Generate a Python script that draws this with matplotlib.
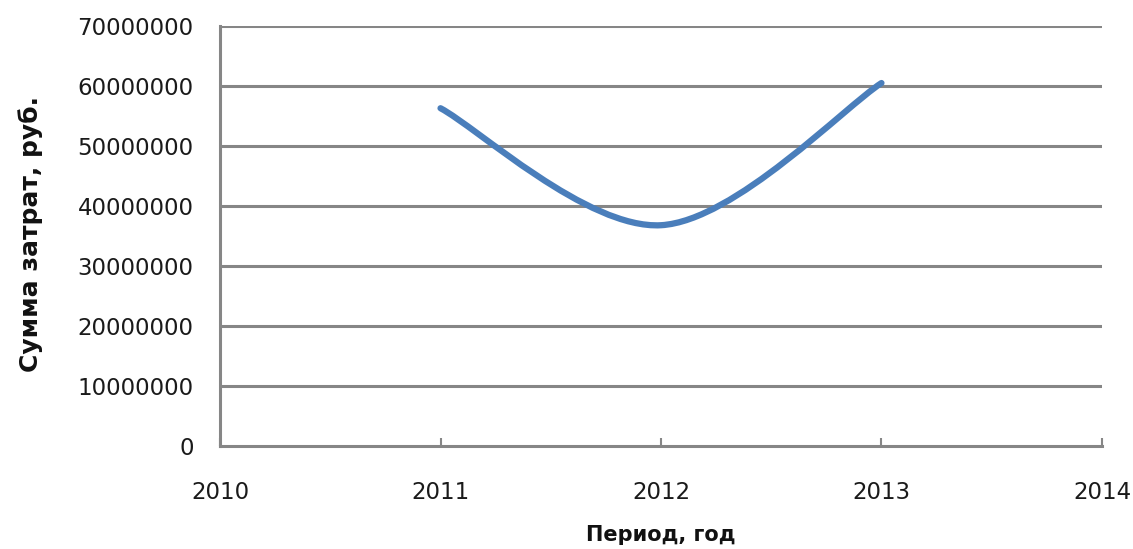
import numpy as np
import matplotlib
matplotlib.use("Agg")
import matplotlib.pyplot as plt
from matplotlib.path import Path
from matplotlib.patches import PathPatch

years = [2011, 2012, 2013]
costs = [56300000, 36800000, 60500000]
x_ticks = [2010, 2011, 2012, 2013, 2014]
y_ticks = [0, 10000000, 20000000, 30000000, 40000000, 50000000, 60000000, 70000000]
y_label = "Сумма затрат, руб."
x_label = "Период, год"

fig = plt.figure(figsize=(11.33, 5.49), dpi=100)
ax = fig.add_axes([0.1942, 0.1876, 0.9726 - 0.1942, 0.9526 - 0.1876])
ax.set_xlim(2010, 2014)
ax.set_ylim(0, 70000000)

grid_c = "#868686"
for v in y_ticks[1:]:
    ax.axhline(v, color=grid_c, lw=2.2, zorder=1)
for s in ["top", "right"]:
    ax.spines[s].set_visible(False)
for s in ["left", "bottom"]:
    ax.spines[s].set_color(grid_c)
    ax.spines[s].set_linewidth(2.2)

ax.set_xticks(x_ticks)
ax.set_xticklabels([str(v) for v in x_ticks])
ax.set_yticks(y_ticks)
ax.set_yticklabels([str(v) for v in y_ticks])
ax.tick_params(axis="x", direction="in", length=6, width=1.5, color=grid_c,
               pad=25, labelsize=16.5, labelcolor="#1a1a1a")
ax.tick_params(axis="y", length=0, pad=19, labelsize=16.5, labelcolor="#1a1a1a")

# Excel-style smoothed line (Bezier through points, computed in display space)
fig.canvas.draw()
pts = ax.transData.transform(np.column_stack([years, costs]))
n = len(pts)
verts = [pts[0]]
codes = [Path.MOVETO]
for i in range(n - 1):
    p0 = pts[i - 1] if i > 0 else pts[i]
    p1 = pts[i]
    p2 = pts[i + 1]
    p3 = pts[i + 2] if i + 2 < n else pts[i + 1]
    c1 = p1 + (p2 - p0) / 6.0
    c2 = p2 - (p3 - p1) / 6.0
    verts += [c1, c2, p2]
    codes += [Path.CURVE4] * 3
inv = ax.transData.inverted()
verts_d = inv.transform(np.array(verts))
patch = PathPatch(Path(verts_d, codes), facecolor="none", edgecolor="#4A7EBB",
                  lw=4.5, capstyle="round", zorder=3)
ax.add_patch(patch)

fig.text(0.027, 0.574, y_label, rotation=90, ha="center", va="center",
         fontsize=18, fontweight="bold", family="DejaVu Sans", color="#111111")
fig.text(0.583, 0.025, x_label, ha="center", va="center",
         fontsize=15, fontweight="bold", family="DejaVu Sans", color="#111111")

fig.savefig("out.png", dpi=100, facecolor="white")
